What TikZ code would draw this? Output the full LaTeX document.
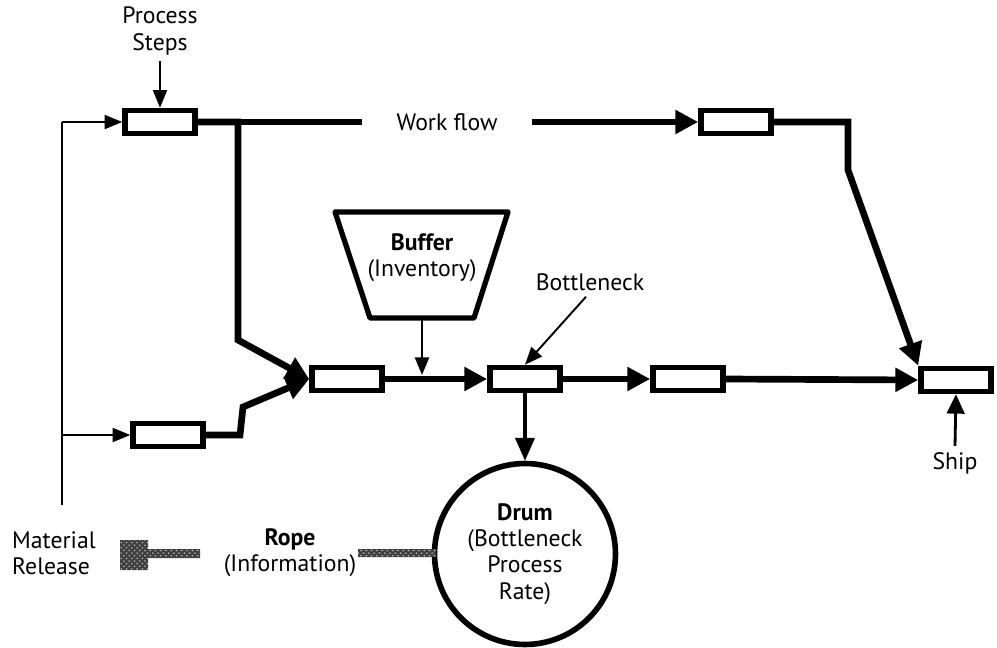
\documentclass[tikz,border=0pt]{standalone}
\usepackage{fontspec}
\setmainfont{PT Sans}
\usetikzlibrary{arrows.meta,patterns}

\tikzset{
  proc/.style={draw,line width=3.2pt,fill=white,minimum width=1.4cm,minimum height=0.46cm,inner sep=0pt},
  flowline/.style={line width=3.8pt},
  flow/.style={flowline,-{Triangle[length=13pt,width=13pt]}},
  thinarr/.style={line width=1.1pt,-{Triangle[length=10pt,width=8pt]}},
  lbl/.style={align=center,font=\fontsize{13.5}{15}\selectfont}
}

\begin{document}
\begin{tikzpicture}[x=0.02cm,y=-0.02cm]
\useasboundingbox (0,0) rectangle (997,648);

% process steps
\node[proc] (p1) at (160,122) {};
\node[proc] (p2) at (168,435) {};
\node[proc] (p3) at (347,379) {};
\node[proc] (bn) at (525,379) {};
\node[proc] (p5) at (688,379) {};
\node[proc] (p4) at (736,122) {};
\node[proc] (ship) at (956,380) {};

% labels
\node[lbl] (steps) at (160,31) {Process\\Steps};
\node[lbl,minimum width=3.4cm] (wf) at (447,122) {Work flow};
\node[lbl] (bnl) at (590,282) {Bottleneck};
\node[lbl] (shipl) at (955,463) {Ship};
\node[lbl,align=left,anchor=west] (mrl) at (6,553) {Material\\Release};
\node[lbl] (ropel) at (290,553) {\textbf{Rope}\\(Information)};

% material release
\coordinate (mtop) at (62,122);
\coordinate (mlow) at (62,435);
\coordinate (mbot) at (62,505);
\draw[line width=1.4pt] (mbot) -- (mtop);
\draw[thinarr] (mtop) -- (p1.west);
\draw[thinarr] (mlow) -- (p2.west);
\draw[thinarr] (steps.south) -- (p1.north);

% work flow
\draw[flowline] (p1.east) -- (wf.west);
\draw[flow] (wf.east) -- (p4.west);
\draw[flow] (p1.east) -| (238,340) -- (p3.west);
\draw[flow] (p2.east) -- (240,435) -- (243,407) -- (p3.west);
\draw[flow] (p3.east) -- (bn.west);
\draw[flow] (bn.east) -- (p5.west);
\draw[flow] (p5.east) -- (ship.west);
\draw[flow] (p4.east) -- (848,122) -- (848,170) -- (ship.north west);

% buffer
\draw[line width=3pt,line join=round] (335,212) -- (508,212) -- (474,318) -- (370,318) -- cycle;
\node[lbl] (buf) at (422,258) {\textbf{Buffer}\\(Inventory)};
\coordinate (bufbot) at (422,318);
\coordinate (bufin) at (422,375);
\draw[thinarr] (bufbot) -- (bufin);

% bottleneck and drum
\draw[thinarr] (bnl.south) ++(-4,0) -- (bn.north);
\node[draw,circle,line width=3.2pt,minimum size=3.62cm,lbl] (drum) at (525,554)
  {\textbf{Drum}\\(Bottleneck\\Process\\Rate)};
\draw[line width=1.8pt,-{Triangle[length=13pt,width=11pt]}] (bn.south) -- (drum.north);
\draw[line width=1.6pt,-{Triangle[length=11pt,width=10pt]}] (shipl.north) -- (ship.south);

% rope
\fill[black!75] (120,540) rectangle (148,570) (148,549) rectangle (200,558)
  (358,549) rectangle (436,557);
\fill[pattern=crosshatch dots,pattern color=gray!55] (120,540) rectangle (148,570)
  (148,549) rectangle (200,558) (358,549) rectangle (436,557);
\end{tikzpicture}
\end{document}
